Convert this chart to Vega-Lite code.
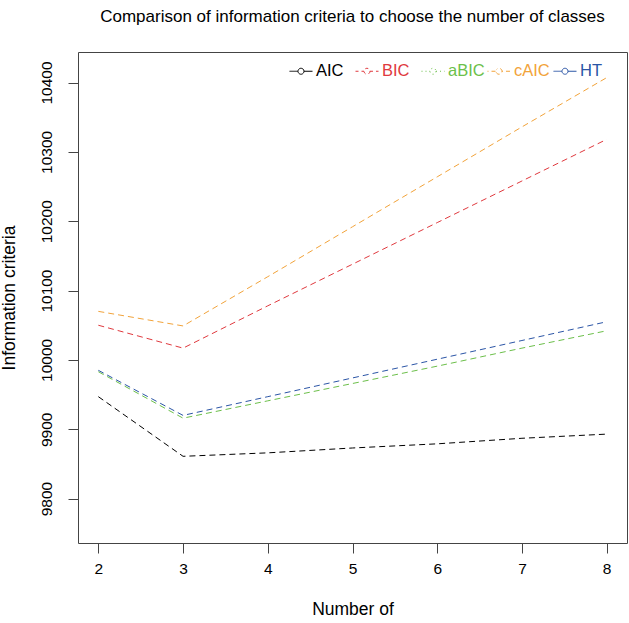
{
  "$schema": "https://vega.github.io/schema/vega-lite/v6.json",
  "width": 549,
  "height": 491,
  "autosize": "none",
  "padding": {"left": 78, "top": 52, "right": 2, "bottom": 80},
  "background": "white",
  "config": {
    "font": "Liberation Sans",
    "view": {"stroke": "#444444", "strokeWidth": 1}
  },
  "title": {
    "text": "Comparison of information criteria to choose the number of classes",
    "fontSize": 17,
    "fontWeight": "normal",
    "color": "black",
    "anchor": "middle",
    "offset": 26
  },
  "data": {
    "values": [
      {"classes": 2, "criterion": "AIC", "value": 9947},
      {"classes": 3, "criterion": "AIC", "value": 9861},
      {"classes": 4, "criterion": "AIC", "value": 9866},
      {"classes": 5, "criterion": "AIC", "value": 9873},
      {"classes": 6, "criterion": "AIC", "value": 9879},
      {"classes": 7, "criterion": "AIC", "value": 9887},
      {"classes": 8, "criterion": "AIC", "value": 9893},
      {"classes": 2, "criterion": "BIC", "value": 10050},
      {"classes": 3, "criterion": "BIC", "value": 10017},
      {"classes": 4, "criterion": "BIC", "value": 10078},
      {"classes": 5, "criterion": "BIC", "value": 10138},
      {"classes": 6, "criterion": "BIC", "value": 10198},
      {"classes": 7, "criterion": "BIC", "value": 10258},
      {"classes": 8, "criterion": "BIC", "value": 10318},
      {"classes": 2, "criterion": "aBIC", "value": 9983},
      {"classes": 3, "criterion": "aBIC", "value": 9916},
      {"classes": 4, "criterion": "aBIC", "value": 9941},
      {"classes": 5, "criterion": "aBIC", "value": 9966},
      {"classes": 6, "criterion": "aBIC", "value": 9991},
      {"classes": 7, "criterion": "aBIC", "value": 10017},
      {"classes": 8, "criterion": "aBIC", "value": 10042},
      {"classes": 2, "criterion": "cAIC", "value": 10070},
      {"classes": 3, "criterion": "cAIC", "value": 10049},
      {"classes": 4, "criterion": "cAIC", "value": 10120},
      {"classes": 5, "criterion": "cAIC", "value": 10192},
      {"classes": 6, "criterion": "cAIC", "value": 10264},
      {"classes": 7, "criterion": "cAIC", "value": 10336},
      {"classes": 8, "criterion": "cAIC", "value": 10407},
      {"classes": 2, "criterion": "HT", "value": 9985},
      {"classes": 3, "criterion": "HT", "value": 9920},
      {"classes": 4, "criterion": "HT", "value": 9947},
      {"classes": 5, "criterion": "HT", "value": 9974},
      {"classes": 6, "criterion": "HT", "value": 10001},
      {"classes": 7, "criterion": "HT", "value": 10028},
      {"classes": 8, "criterion": "HT", "value": 10055}
    ]
  },
  "mark": {"type": "line", "strokeDash": [6, 4], "strokeWidth": 1},
  "encoding": {
    "x": {
      "field": "classes",
      "type": "quantitative",
      "scale": {"domain": [1.76, 8.24], "nice": false, "zero": false},
      "axis": {
        "values": [2, 3, 4, 5, 6, 7, 8],
        "format": "d",
        "domain": false,
        "grid": false,
        "tickSize": 10,
        "tickColor": "#444444",
        "labelFontSize": 15.5,
        "labelColor": "black",
        "labelPadding": 8,
        "title": "Number of",
        "titleFontSize": 17.5,
        "titleFontWeight": "normal",
        "titleColor": "black",
        "titlePadding": 24
      }
    },
    "y": {
      "field": "value",
      "type": "quantitative",
      "scale": {"domain": [9736, 10444], "nice": false, "zero": false},
      "axis": {
        "values": [9800, 9900, 10000, 10100, 10200, 10300, 10400],
        "format": "d",
        "domain": false,
        "grid": false,
        "tickSize": 10,
        "tickColor": "#444444",
        "labelFontSize": 15.5,
        "labelColor": "black",
        "labelAngle": -90,
        "labelAlign": "center",
        "labelBaseline": "alphabetic",
        "labelPadding": 17,
        "title": "Information criteria",
        "titleFontSize": 17.5,
        "titleFontWeight": "normal",
        "titleColor": "black",
        "titlePadding": 21
      }
    },
    "color": {
      "field": "criterion",
      "type": "nominal",
      "sort": ["AIC", "BIC", "aBIC", "cAIC", "HT"],
      "scale": {
        "domain": ["AIC", "BIC", "aBIC", "cAIC", "HT"],
        "range": ["#000000", "#E0393E", "#6CBF4A", "#F2A33A", "#2B55A6"]
      },
      "legend": {
        "title": null,
        "orient": "none",
        "legendX": 211,
        "legendY": 7,
        "direction": "horizontal",
        "columns": 5,
        "gridAlign": "all",
        "padding": 0,
        "columnPadding": 0,
        "labelOffset": 3,
        "labelFontSize": 16.5,
        "symbolType": "M-1,0L-0.26,0M0.26,0L1,0M0.26,0A0.26,0.26,0,1,1,-0.26,0A0.26,0.26,0,1,1,0.26,0",
        "symbolSize": 529,
        "symbolStrokeWidth": 1,
        "symbolFillColor": "transparent",
        "encode": {
          "labels": {"update": {"fill": {"scale": "color", "field": "value"}}},
          "symbols": {"update": {
            "fill": {"value": "transparent"},
            "strokeDash": {"signal": "datum.value === 'BIC' ? [3, 3] : datum.value === 'aBIC' ? [1, 3] : datum.value === 'cAIC' ? [1, 3, 4, 3] : [1, 0]"}
          }}
        }
      }
    }
  }
}
